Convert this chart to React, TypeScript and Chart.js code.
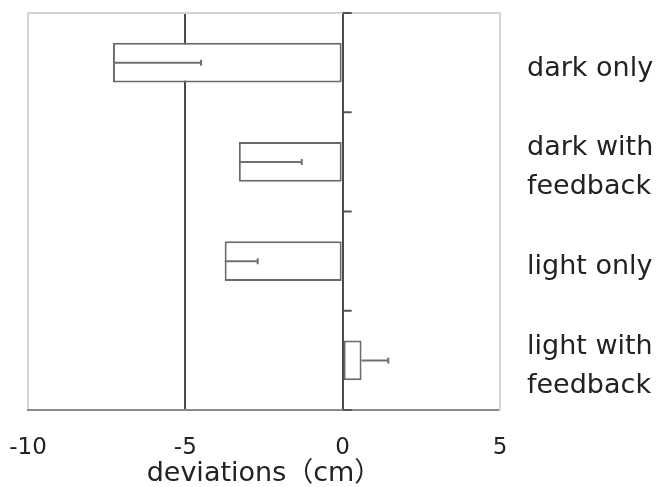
import React, { useEffect, useRef } from "react";
import { Chart, registerables } from "chart.js";

Chart.register(...registerables);

const categories: (string | string[])[] = [
  "dark only",
  ["dark with", "feedback"],
  "light only",
  ["light with", "feedback"],
];
const meanValues = [-7.3, -3.3, -3.75, 0.6];
const errorValues = [2.8, 2.0, 1.05, 0.85];
const xTickValues = [-10, -5, 0, 5];
const xTickLabels = ["-10", "-5", "0", "5"];
const xTitle = "deviations（cm）";

const FONT = "'DejaVu Sans', 'Noto Sans CJK JP', sans-serif";

const extrasPlugin = {
  id: "extras",
  beforeDatasetsDraw(chart: any) {
    const { ctx, chartArea } = chart;
    const xs = chart.scales.x;
    const ys = chart.scales.y;
    ctx.save();
    ctx.strokeStyle = "#d4d4d4";
    ctx.lineWidth = 2;
    ctx.beginPath();
    ctx.moveTo(chartArea.left, chartArea.top);
    ctx.lineTo(chartArea.right, chartArea.top);
    ctx.stroke();
    const x0 = xs.getPixelForValue(0);
    ctx.strokeStyle = "#555";
    ctx.lineWidth = 2;
    for (let i = 0; i <= categories.length; i++) {
      const yy =
        i === 0
          ? chartArea.top
          : i === categories.length
          ? chartArea.bottom
          : (ys.getPixelForValue(i - 1) + ys.getPixelForValue(i)) / 2;
      ctx.beginPath();
      ctx.moveTo(x0, yy);
      ctx.lineTo(x0 + 9, yy);
      ctx.stroke();
    }
    ctx.restore();
  },
  afterDatasetsDraw(chart: any) {
    const { ctx } = chart;
    const xs = chart.scales.x;
    const ys = chart.scales.y;
    ctx.save();
    ctx.strokeStyle = "#707070";
    ctx.lineWidth = 2;
    for (let i = 0; i < meanValues.length; i++) {
      const y = ys.getPixelForValue(i);
      const xa = xs.getPixelForValue(meanValues[i]);
      const xb = xs.getPixelForValue(meanValues[i] + errorValues[i]);
      ctx.beginPath();
      ctx.moveTo(xa, y);
      ctx.lineTo(xb, y);
      ctx.moveTo(xb, y - 3);
      ctx.lineTo(xb, y + 3);
      ctx.stroke();
    }
    ctx.restore();
  },
};

const zeroPadding = (scale: any) => {
  scale.paddingLeft = 0;
  scale.paddingRight = 0;
  scale.paddingTop = 0;
  scale.paddingBottom = 0;
};

export default function App() {
  const ref = useRef<HTMLCanvasElement>(null);
  useEffect(() => {
    document.body.style.margin = "0";
    const chart = new Chart(ref.current!, {
      type: "bar",
      data: {
        labels: categories as any,
        datasets: [
          {
            data: meanValues,
            backgroundColor: "#ffffff",
            borderColor: "#6a6a6a",
            borderWidth: 2,
            borderSkipped: false,
            categoryPercentage: 0.8,
            barPercentage: 0.5,
          },
        ],
      },
      options: {
        indexAxis: "y",
        responsive: false,
        animation: false,
        layout: { padding: { top: 13, left: 28, right: 0, bottom: 0 } },
        plugins: {
          legend: { display: false },
          tooltip: { enabled: false },
        },
        scales: {
          x: {
            type: "linear",
            min: -10,
            max: 5,
            afterBuildTicks: (scale: any) => {
              scale.ticks = xTickValues.map((v) => ({ value: v }));
            },
            afterFit: (scale: any) => {
              zeroPadding(scale);
              scale.height = 77;
            },
            ticks: {
              padding: 24,
              color: "#222",
              font: { family: FONT, size: 23 },
              callback: (v: any) => {
                const idx = xTickValues.indexOf(Number(v));
                return idx >= 0 ? xTickLabels[idx] : "";
              },
            },
            grid: {
              drawTicks: false,
              lineWidth: 2,
              color: (c: any) =>
                c.tick && (c.tick.value === -5 || c.tick.value === 0)
                  ? "#4a4a4a"
                  : "#d4d4d4",
            },
            border: { display: true, color: "#8a8a8a", width: 2 },
            title: {
              display: true,
              text: xTitle,
              color: "#222",
              font: { family: FONT, size: 27, lineHeight: 1.0 },
              padding: { top: 0, bottom: 0 },
            },
          },
          y: {
            type: "category",
            position: "right",
            afterFit: (scale: any) => {
              zeroPadding(scale);
              scale.width = 160;
            },
            ticks: {
              autoSkip: false,
              padding: 27,
              labelOffset: 6,
              crossAlign: "near",
              color: "#222",
              font: { family: FONT, size: 27, lineHeight: 1.45 },
            },
            grid: { drawOnChartArea: false, drawTicks: false },
            border: { display: true, color: "#d4d4d4", width: 2 },
          },
        },
      },
      plugins: [extrasPlugin],
    } as any);
    return () => chart.destroy();
  }, []);
  return (
    <div style={{ width: 660, height: 487 }}>
      <canvas ref={ref} width={660} height={487} />
    </div>
  );
}
